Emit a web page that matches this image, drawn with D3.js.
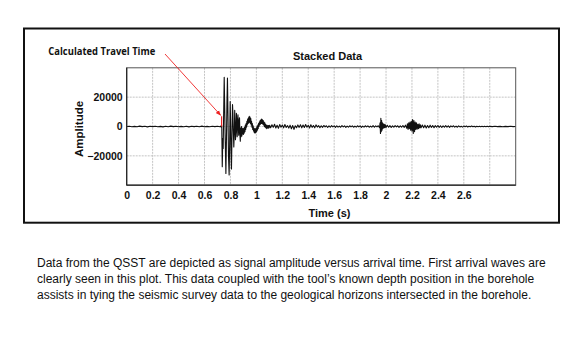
<!DOCTYPE html>
<html><head><meta charset="utf-8">
<script src="https://cdn.jsdelivr.net/npm/d3@7"></script>
<style>
html,body{margin:0;padding:0;background:#fff;}
svg{display:block;}
</style></head>
<body>
<svg id="chart" width="583" height="340"></svg>
<script>
// ---- Data (time in s, amplitude) ----
const xTickValues = [0,0.2,0.4,0.6,0.8,1,1.2,1.4,1.6,1.8,2,2.2,2.4,2.6];
const xGridValues = [0.2,0.4,0.6,0.8,1,1.2,1.4,1.6,1.8,2,2.2,2.4,2.6,2.8];
const yTickValues = [-20000,0,20000];
const travelTime = 0.732;
const travelMarkAmp = 7000;

const preArrival = [
[0,0],[0.02,150],[0.04,-200],[0.06,100],[0.08,-150],[0.10,250],[0.12,-100],[0.14,200],[0.16,-250],[0.18,150],
[0.20,-100],[0.22,200],[0.24,-150],[0.26,100],[0.28,-250],[0.30,150],[0.32,-200],[0.34,250],[0.36,-100],[0.38,150],
[0.40,-200],[0.42,100],[0.44,-150],[0.46,200],[0.48,-250],[0.50,150],[0.52,-100],[0.54,200],[0.56,-150],[0.58,250],
[0.60,-200],[0.62,100],[0.64,-150],[0.66,200],[0.68,-100],[0.70,150],[0.72,-200],[0.724,200],[0.729,-300],[0.733,500]
];
const firstArrival = [
[0.737,-27400],[0.741,-8000],[0.744,-15000],[0.748,10000],[0.752,33600],[0.756,12000],[0.759,-5000],[0.765,-32000],
[0.769,-10000],[0.773,15000],[0.777,33000],[0.781,8000],[0.785,-20000],[0.790,-33000],[0.794,-12000],[0.798,17000],
[0.801,5000],[0.804,-15000],[0.808,-29000],[0.812,-6000],[0.816,15000],[0.819,9000],[0.822,-2000],[0.826,-14000],
[0.830,-4000],[0.833,11000],[0.836,3000],[0.839,-9000],[0.843,-3000],[0.846,9000],[0.849,2000],[0.852,-7000],
[0.855,4000]
];
const earlyCoda = [
[0.858,8000],[0.861,-1000],[0.864,-6000],[0.867,4000],[0.870,6000],[0.873,-5000],[0.876,-10000],[0.879,-1000],
[0.882,-7000],[0.885,0],[0.888,-6500],[0.891,-1500],[0.894,-5000],[0.897,-1000],[0.900,-5500],[0.903,-1500],
[0.906,-4500],[0.909,-500],[0.912,-3500],[0.915,1000],[0.918,-2000],[0.921,2000],[0.924,-500],[0.927,3500],
[0.930,1000],[0.933,5000],[0.936,2000],[0.939,6000],[0.942,2500],[0.945,7000],[0.948,3000],[0.951,6500],
[0.954,2000],[0.957,5500],[0.960,1000],[0.963,3500],[0.966,-500],[0.969,2000],[0.972,-2000],[0.975,500],
[0.978,-3000],[0.981,-1000],[0.984,-4000],[0.987,-1500],[0.990,-4500],[0.993,-1500],[0.996,-4000],[0.999,-1000],
[1.002,-3500],[1.005,0],[1.008,-2500],[1.011,1000],[1.014,-1500],[1.017,2000],[1.020,0],[1.023,3000],
[1.026,1000],[1.029,4000],[1.032,1500],[1.035,4500],[1.038,2000],[1.041,5000],[1.044,2000],[1.047,4500],
[1.050,1500],[1.053,4000],[1.056,1000],[1.059,3000],[1.062,0],[1.065,2500],[1.068,-500],[1.071,1500],
[1.074,-1000],[1.077,1000],[1.080,-1500],[1.083,500],[1.086,-1000],[1.089,800],[1.092,-1200],[1.095,600],
[1.098,-900],[1.102,800]
];
const coda = [
[1.11,-800],[1.12,1200],[1.13,-600],[1.14,1500],[1.15,-1000],[1.16,800],[1.17,-1200],[1.18,1300],[1.19,-500],[1.20,1000],
[1.21,-900],[1.22,1400],[1.23,-700],[1.24,600],[1.25,-1100],[1.26,900],[1.27,-1500],[1.28,700],[1.29,-2000],[1.30,500],
[1.31,-800],[1.32,1100],[1.33,-600],[1.34,1200],[1.35,-900],[1.36,1000],[1.37,-700],[1.38,1300],[1.39,-500],[1.40,800],
[1.41,-1000],[1.42,1200],[1.43,-600],[1.44,700],[1.45,-900],[1.46,1100],[1.47,-400],[1.48,600],[1.49,-800],[1.50,500],
[1.51,-600],[1.52,700],[1.53,-300],[1.54,500],[1.55,-700],[1.56,400],[1.57,-500],[1.58,600],[1.59,-300],[1.60,400],
[1.61,-600],[1.62,500],[1.63,-400],[1.64,300],[1.65,-500],[1.66,600],[1.67,-300],[1.68,400],[1.69,-600],[1.70,300],
[1.71,-400],[1.72,500],[1.73,-300],[1.74,400],[1.75,-500],[1.76,300],[1.77,-400],[1.78,500],[1.79,-300],[1.80,400],
[1.81,-600],[1.82,300],[1.83,-400],[1.84,500],[1.85,-300],[1.86,400],[1.87,-500],[1.88,300],[1.89,-400],[1.90,600],
[1.91,-500],[1.92,400],[1.93,-300],[1.94,500]
];
const event2 = [
[1.950,-800],[1.954,2500],[1.957,-4700],[1.960,5600],[1.963,-3500],[1.966,4000],[1.969,-2500],[1.972,2500],
[1.975,-1500],[1.979,1800],[1.983,-1000],[1.987,1500],[1.991,-800],[1.995,1200],[2.000,-600],
[2.01,800],[2.02,-500],[2.03,600],[2.04,-700],[2.05,400],[2.06,-500],[2.07,600],[2.08,-300],[2.09,500],[2.10,-600],
[2.11,400],[2.12,-500],[2.13,700],[2.14,-600],[2.15,900]
];
const event3 = [
[2.160,-1200],[2.165,1800],[2.170,-2000],[2.175,2500],[2.180,-1500],[2.185,3000],[2.190,-2500],[2.195,3500],
[2.200,-3000],[2.205,4800],[2.210,-4700],[2.215,4000],[2.220,-3500],[2.225,3000],[2.230,-2000],[2.235,2500],
[2.240,-1800],[2.245,1500],[2.250,-1500],[2.255,1800],[2.260,-1000],[2.265,1200],[2.270,-900]
];
const tail = [
[2.28,1000],[2.29,-800],[2.30,900],[2.31,-1000],[2.32,700],[2.33,-800],[2.34,900],[2.35,-600],[2.36,700],[2.37,-800],
[2.38,600],[2.39,-500],[2.40,700],[2.41,-600],[2.42,500],[2.43,-700],[2.44,400],[2.45,-500],[2.46,600],[2.47,-400],
[2.48,500],[2.49,-600],[2.50,400],[2.51,-300],[2.52,500],[2.53,-400],[2.54,300],[2.55,-500],[2.56,400],[2.57,-300],
[2.58,200],[2.59,-400],[2.60,300],[2.61,-200],[2.62,300],[2.63,-300],[2.64,200],[2.65,-200],[2.66,300],[2.67,-200],
[2.68,200],[2.69,-300],[2.70,200],[2.71,-100],[2.72,200],[2.73,-200],[2.74,100],[2.75,-200],[2.76,200],[2.77,-100],
[2.78,200],[2.79,-200],[2.80,100],[2.82,-100],[2.84,150],[2.86,-100],[2.88,100],[2.90,-150],[2.92,100],[2.94,-100],
[2.96,150],[2.98,-100],[3.00,0]
];
const captionLines = [
"Data from the QSST are depicted as signal amplitude versus arrival time. First arrival waves are",
"clearly seen in this plot. This data coupled with the tool\u2019s known depth position in the borehole",
"assists in tying the seismic survey data to the geological horizons intersected in the borehole."
];

// ---- Layout ----
const svg = d3.select("#chart");
const plot = {left:126.7, right:515.7, top:67.8, bottom:185.2};
const x = d3.scaleLinear().domain([0,3]).range([plot.left, plot.right]);
const y = d3.scaleLinear().domain([-40000,40000]).range([plot.bottom, plot.top]);
const boldFont = "'Liberation Sans', Arial, Helvetica, sans-serif";

// outer frame
svg.append("rect").attr("x",24).attr("y",28.5).attr("width",535).attr("height",194.2)
  .attr("fill","none").attr("stroke","#111").attr("stroke-width",2);

// grid
const g = svg.append("g");
g.selectAll("line.vg").data(xGridValues).join("line")
  .attr("x1",d=>x(d)).attr("x2",d=>x(d)).attr("y1",plot.top).attr("y2",plot.bottom)
  .attr("stroke","#c4c4c4").attr("stroke-width",1).attr("stroke-dasharray","2,1");
g.selectAll("line.hg").data(yTickValues).join("line")
  .attr("x1",plot.left).attr("x2",plot.right).attr("y1",d=>y(d)).attr("y2",d=>y(d))
  .attr("stroke","#c4c4c4").attr("stroke-width",1).attr("stroke-dasharray","2,1");

// signal
const samples = [].concat(preArrival, firstArrival, earlyCoda, coda, event2, event3, tail);
const line = d3.line().x(d=>x(d[0])).y(d=>y(d[1]));
svg.append("path").datum(samples).attr("d",line)
  .attr("fill","none").attr("stroke","#111").attr("stroke-width",1.1).attr("stroke-linejoin","round");

// travel time marker
svg.append("line").attr("x1",x(travelTime)).attr("x2",x(travelTime))
  .attr("y1",y(0)).attr("y2",y(travelMarkAmp)).attr("stroke","#ee2222").attr("stroke-width",1.2);

// plot border
svg.append("rect").attr("x",plot.left).attr("y",plot.top)
  .attr("width",plot.right-plot.left).attr("height",plot.bottom-plot.top)
  .attr("fill","none").attr("stroke","#555").attr("stroke-width",1);
svg.append("line").attr("x1",plot.left).attr("x2",plot.left).attr("y1",plot.top).attr("y2",plot.bottom)
  .attr("stroke","#222").attr("stroke-width",1.2);
svg.append("line").attr("x1",plot.left).attr("x2",plot.right).attr("y1",plot.bottom).attr("y2",plot.bottom)
  .attr("stroke","#222").attr("stroke-width",1.2);

// axes via d3 axis (labels only)
const xAxis = d3.axisBottom(x).tickValues(xTickValues).tickSize(0).tickPadding(6)
  .tickFormat(d=>d3.format("")(+d.toFixed(1)));
const xa = svg.append("g").attr("transform",`translate(0,${plot.bottom})`).call(xAxis);
xa.select(".domain").remove();
xa.selectAll("text").attr("font-family",boldFont).attr("font-weight","bold").attr("font-size",10.5).attr("fill","#111");

const yAxis = d3.axisLeft(y).tickValues(yTickValues).tickSize(0).tickPadding(4).tickFormat(d3.format("d"));
const ya = svg.append("g").attr("transform",`translate(${plot.left},0)`).call(yAxis);
ya.select(".domain").remove();
ya.selectAll("text").attr("font-family",boldFont).attr("font-weight","bold").attr("font-size",10.5).attr("fill","#111");

// titles
svg.append("text").attr("x",327.5).attr("y",60).attr("text-anchor","middle")
  .attr("font-family",boldFont).attr("font-weight","bold").attr("font-size",11).attr("fill","#111")
  .text("Stacked Data");
svg.append("text").attr("x",329.5).attr("y",217).attr("text-anchor","middle")
  .attr("font-family",boldFont).attr("font-weight","bold").attr("font-size",11).attr("fill","#111")
  .text("Time (s)");
svg.append("text").attr("transform","translate(82.5,129) rotate(-90)").attr("text-anchor","middle")
  .attr("font-family",boldFont).attr("font-weight","bold").attr("font-size",11.5).attr("fill","#111")
  .text("Amplitude");

// annotation
svg.append("text").attr("x",48.3).attr("y",55).attr("textLength",107).attr("lengthAdjust","spacingAndGlyphs")
  .attr("font-family","'Liberation Sans Narrow','Open Sans',sans-serif").attr("font-weight","bold")
  .attr("font-size",11).attr("fill","#111").text("Calculated Travel Time");
const defs = svg.append("defs");
defs.append("marker").attr("id","ah").attr("viewBox","0 0 10 10").attr("refX",9).attr("refY",5)
  .attr("markerWidth",6).attr("markerHeight",6).attr("orient","auto")
  .append("path").attr("d","M0,1 L10,5 L0,9 Z").attr("fill","#ee2222");
svg.append("line").attr("x1",165).attr("y1",54).attr("x2",x(travelTime)-1).attr("y2",y(travelMarkAmp)-1)
  .attr("stroke","#ee2222").attr("stroke-width",0.9).attr("marker-end","url(#ah)");

// caption
svg.append("g").selectAll("text").data(captionLines).join("text")
  .attr("x",37).attr("y",(d,i)=>267+i*16)
  .attr("font-family","'Liberation Sans', Arial, sans-serif").attr("font-size",12).attr("fill","#111")
  .text(d=>d);
</script>
</body></html>
